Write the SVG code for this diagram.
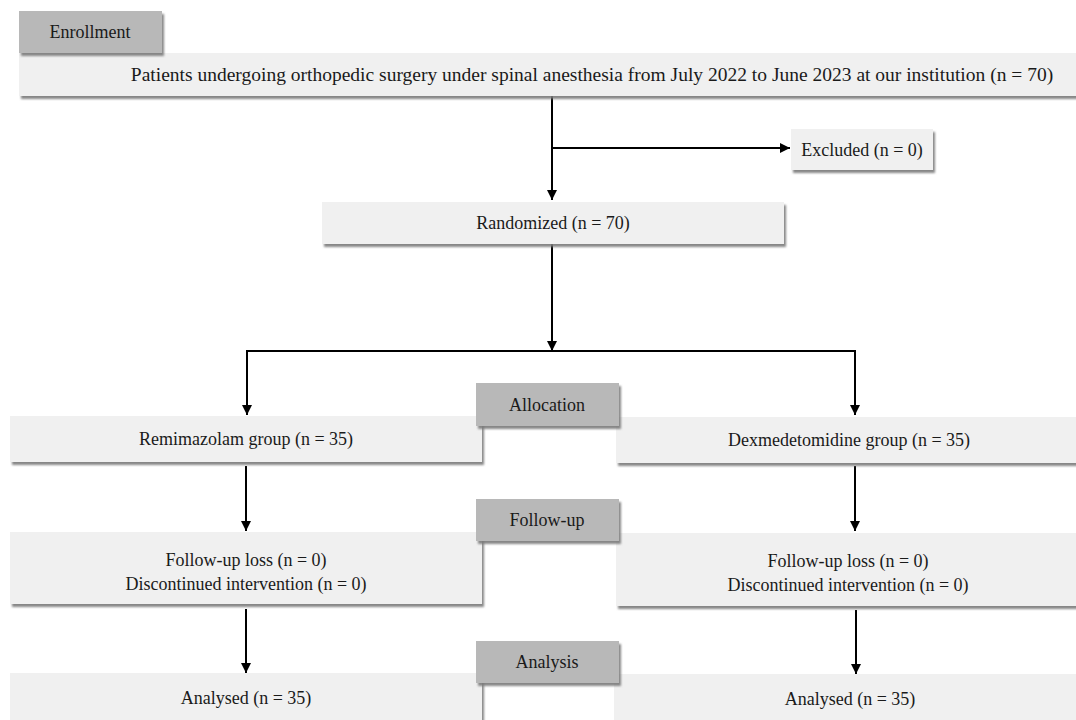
<svg xmlns="http://www.w3.org/2000/svg" width="1076" height="720" viewBox="0 0 1076 720">
<defs>
<filter id="sh" x="-5%" y="-20%" width="110%" height="150%">
<feDropShadow dx="2" dy="3" stdDeviation="1.2" flood-color="#7a7a7a" flood-opacity="0.9"/>
</filter>
<marker id="ah" markerUnits="userSpaceOnUse" markerWidth="10" markerHeight="10" refX="10" refY="5" orient="auto">
<path d="M0,0 L10,5 L0,10 z" fill="#000"/>
</marker>
<style>
.box{fill:#f0f0f0;filter:url(#sh)}
.lab{fill:#b8b8b8;filter:url(#sh)}
text{font-family:"Liberation Serif","Times New Roman",serif;font-size:18px;fill:#1a1a1a;text-anchor:middle}
.big{font-size:19.5px}
.c{fill:none;stroke:#000;stroke-width:2}
</style>
</defs>
<rect width="1076" height="720" fill="#fff"/>
<g id="connectors">
<path class="c" d="M552 96 V200" marker-end="url(#ah)"/>
<path class="c" d="M552 148 H790" marker-end="url(#ah)"/>
<path class="c" d="M552 244 V351" marker-end="url(#ah)"/>
<path class="c" d="M552 351 H247 V415" marker-end="url(#ah)"/>
<path class="c" d="M552 351 H855 V415" marker-end="url(#ah)"/>
<path class="c" d="M246 466 V531" marker-end="url(#ah)"/>
<path class="c" d="M855 466 V531" marker-end="url(#ah)"/>
<path class="c" d="M246 609 V673" marker-end="url(#ah)"/>
<path class="c" d="M856 610 V674" marker-end="url(#ah)"/>
</g>
<g id="patients"><rect class="box" x="19" y="53" width="1070" height="43"/><text class="big" x="592" y="81">Patients undergoing orthopedic surgery under spinal anesthesia from July 2022 to June 2023 at our institution (n = 70)</text></g>
<g id="excluded"><rect class="box" x="791" y="129" width="142" height="41"/><text x="862" y="156">Excluded (n = 0)</text></g>
<g id="randomized"><rect class="box" x="322" y="202" width="462" height="42"/><text x="553" y="229">Randomized (n = 70)</text></g>
<g id="remimazolam"><rect class="box" x="10" y="416" width="472" height="46"/><text x="246" y="445">Remimazolam group (n = 35)</text></g>
<g id="dexmedetomidine"><rect class="box" x="616" y="417" width="480" height="46"/><text x="849" y="446">Dexmedetomidine group (n = 35)</text></g>
<g id="followup-left"><rect class="box" x="10" y="532" width="472" height="72"/><text x="246" y="566">Follow-up loss (n = 0)</text><text x="246" y="590">Discontinued intervention (n = 0)</text></g>
<g id="followup-right"><rect class="box" x="616" y="533" width="480" height="73"/><text x="848" y="567">Follow-up loss (n = 0)</text><text x="848" y="591">Discontinued intervention (n = 0)</text></g>
<g id="analysed-left"><rect class="box" x="10" y="673" width="472" height="60"/><text x="246" y="704">Analysed (n = 35)</text></g>
<g id="analysed-right"><rect class="box" x="614" y="674" width="482" height="60"/><text x="850" y="705">Analysed (n = 35)</text></g>
<g id="enrollment"><rect class="lab" x="19" y="11" width="143" height="42"/><text x="90" y="38">Enrollment</text></g>
<g id="allocation"><rect class="lab" x="476" y="383" width="143" height="43"/><text x="547" y="411">Allocation</text></g>
<g id="followup"><rect class="lab" x="476" y="499" width="143" height="42"/><text x="547" y="526">Follow-up</text></g>
<g id="analysis"><rect class="lab" x="476" y="641" width="143" height="42"/><text x="547" y="668">Analysis</text></g>
</svg>
